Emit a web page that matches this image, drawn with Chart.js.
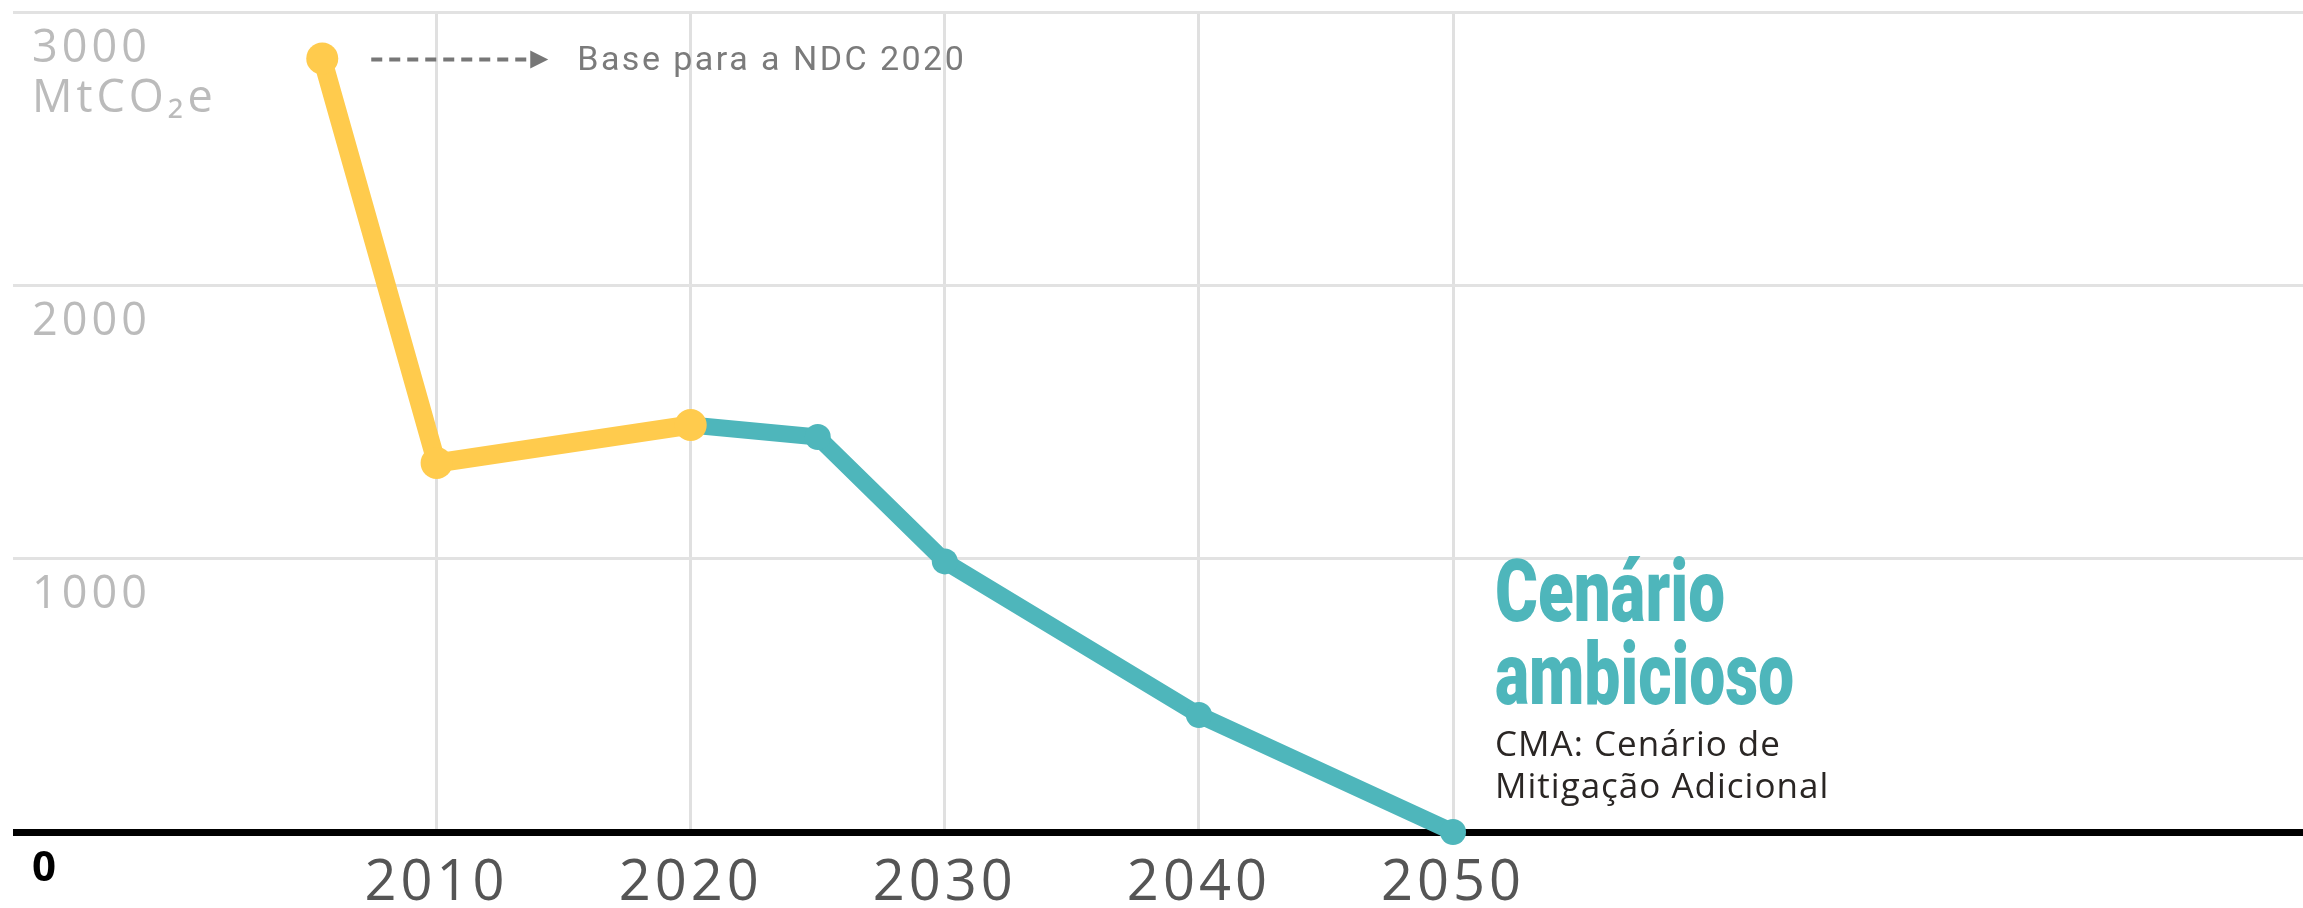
<!DOCTYPE html>
<html>
<head>
<meta charset="utf-8">
<script src="https://cdn.jsdelivr.net/npm/chart.js@4/dist/chart.umd.min.js"></script>
<style>
  html, body { margin: 0; background: #fff; overflow: hidden; }
  #wrap { width: 2303px; height: 908px; }
  canvas { display: block; }
</style>
</head>
<body>
<div id="wrap"><canvas id="emissionsChart" width="2303" height="908"></canvas></div>
<script>

// values (MtCO2e)
var historicYears = [2005.5, 2010, 2020];
var historicValues = [2830, 1350, 1489];

var cmaYears = [2020, 2025, 2030, 2040, 2050];
var cmaValues = [1489, 1445, 990, 428, 0];

var yearTicks = [2010, 2020, 2030, 2040, 2050];
var valueTicks = [0, 1000, 2000, 3000];

var yellow = 'rgb(255, 203, 77)';
var teal = 'rgb(78, 182, 187)';

function toPoints(xs, ys) {
  var out = [];
  for (var i = 0; i < xs.length; i++) {
    out.push({ x: xs[i], y: ys[i] });
  }
  return out;
}

var annotations = {
  id: 'annotations',
  beforeDraw: function(chart) {
    chart.ctx.letterSpacing = '4px';
  },
  beforeDatasetsDraw: function(chart) {
    chart.ctx.letterSpacing = '0px';
  },
  afterDatasetsDraw: function(chart) {
    var ctx = chart.ctx;
    var xs = chart.scales.x;
    var ys = chart.scales.y;

    ctx.save();

    // unit under the top tick
    ctx.letterSpacing = '4px';
    ctx.fillStyle = '#bbbbbb';
    ctx.font = '45px "Open Sans"';
    ctx.textAlign = 'left';
    ctx.textBaseline = 'alphabetic';
    ctx.fillText('MtCO₂e', 32, ys.getPixelForValue(3000) + 100);

    // dashed arrow from the first point
    var px = xs.getPixelForValue(historicYears[0]);
    var py = ys.getPixelForValue(historicValues[0]) + 1;
    ctx.letterSpacing = '0px';
    ctx.strokeStyle = '#777';
    ctx.lineWidth = 4;
    ctx.setLineDash([11, 7]);
    ctx.beginPath();
    ctx.moveTo(px + 49, py);
    ctx.lineTo(px + 208, py);
    ctx.stroke();
    ctx.setLineDash([]);
    ctx.fillStyle = '#777';
    ctx.beginPath();
    ctx.moveTo(px + 208, py - 9);
    ctx.lineTo(px + 226, py);
    ctx.lineTo(px + 208, py + 9);
    ctx.closePath();
    ctx.fill();

    ctx.font = '34px Roboto';
    var baseText = 'Base para a NDC 2020';
    var w = ctx.measureText(baseText).width;
    ctx.letterSpacing = ((389 - w) / baseText.length) + 'px';
    ctx.fillStyle = '#7b7b7b';
    ctx.textBaseline = 'middle';
    ctx.fillText(baseText, px + 255, py + 2);

    // scenario label
    var tx = xs.getPixelForValue(2050) + 42;
    var ty = ys.getPixelForValue(1000);
    ctx.letterSpacing = '0px';
    ctx.textBaseline = 'alphabetic';
    ctx.fillStyle = teal;
    ctx.font = '900 88px Roboto';
    var squeeze = 230 / ctx.measureText('Cenário').width;
    ctx.save();
    ctx.translate(tx, ty + 62);
    ctx.scale(squeeze, 1);
    ctx.fillText('Cenário', 0, 0);
    ctx.restore();
    ctx.save();
    ctx.translate(tx, ty + 145);
    ctx.scale(squeeze * 0.98, 1);
    ctx.fillText('ambicioso', 0, 0);
    ctx.restore();

    ctx.fillStyle = '#2a2624';
    ctx.font = '35px "Open Sans"';
    ctx.letterSpacing = '1px';
    ctx.fillText('CMA: Cenário de', tx, ty + 197);
    ctx.fillText('Mitigação Adicional', tx, ty + 239);

    ctx.restore();
  }
};

function drawChart() {

  Chart.defaults.font.family = '"Open Sans", sans-serif';

  var ctx = document.getElementById('emissionsChart').getContext('2d');
  var chart = new Chart(ctx, {
    type: 'line',
    data: {
      datasets: [
        {
          label: 'Histórico',
          data: toPoints(historicYears, historicValues),
          borderColor: yellow,
          backgroundColor: yellow,
          borderWidth: 19,
          pointRadius: 16,
          pointBorderWidth: 0,
          pointBackgroundColor: yellow,
          borderJoinStyle: 'round',
          borderCapStyle: 'round',
          tension: 0,
          clip: false
        },
        {
          label: 'CMA',
          data: toPoints(cmaYears, cmaValues),
          borderColor: teal,
          backgroundColor: teal,
          borderWidth: 17,
          pointRadius: 13,
          pointBorderWidth: 0,
          pointBackgroundColor: teal,
          borderJoinStyle: 'round',
          borderCapStyle: 'round',
          tension: 0,
          clip: false
        }
      ]
    },
    options: {
      responsive: false,
      animation: false,
      events: [],
      layout: { autoPadding: false, padding: { left: 13, right: 0, top: 12, bottom: 0 } },
      plugins: {
        legend: { display: false },
        tooltip: { enabled: false }
      },
      scales: {
        x: {
          type: 'linear',
          position: 'bottom',
          min: 1993.33,
          max: 2083.45,
          afterBuildTicks: function(scale) {
            scale.ticks = yearTicks.map(function(v) { return { value: v }; });
          },
          afterFit: function(scale) {
            scale.height = 76;
            scale.paddingLeft = 0;
            scale.paddingRight = 0;
          },
          border: { display: false },
          grid: { color: '#e0e0e0', lineWidth: 3, drawTicks: false },
          ticks: {
            autoSkip: false,
            maxRotation: 0,
            padding: 18,
            color: '#555',
            font: { size: 56 },
            callback: function(v) { return String(v); }
          }
        },
        y: {
          type: 'linear',
          position: 'left',
          min: 0,
          max: 3000,
          afterBuildTicks: function(scale) {
            scale.ticks = valueTicks.map(function(v) { return { value: v }; });
          },
          afterFit: function(scale) {
            scale.width = 0;
            scale.paddingTop = 0;
            scale.paddingBottom = 0;
          },
          border: { display: false },
          grid: {
            drawTicks: false,
            color: function(c) { return c.tick && c.tick.value === 0 ? '#000' : '#e2e2e2'; },
            lineWidth: function(c) { return c.tick && c.tick.value === 0 ? 7 : 3; }
          },
          ticks: {
            mirror: true,
            padding: 19,
            labelOffset: 37,
            color: function(c) { return c.tick && c.tick.value === 0 ? '#000' : '#bbbbbb'; },
            font: function(c) {
              return c.tick && c.tick.value === 0 ? { size: 42, weight: 'bold' } : { size: 45 };
            },
            callback: function(v) { return String(v); }
          }
        }
      }
    },
    plugins: [annotations]
  });
}

drawChart();

</script>
</body>
</html>
